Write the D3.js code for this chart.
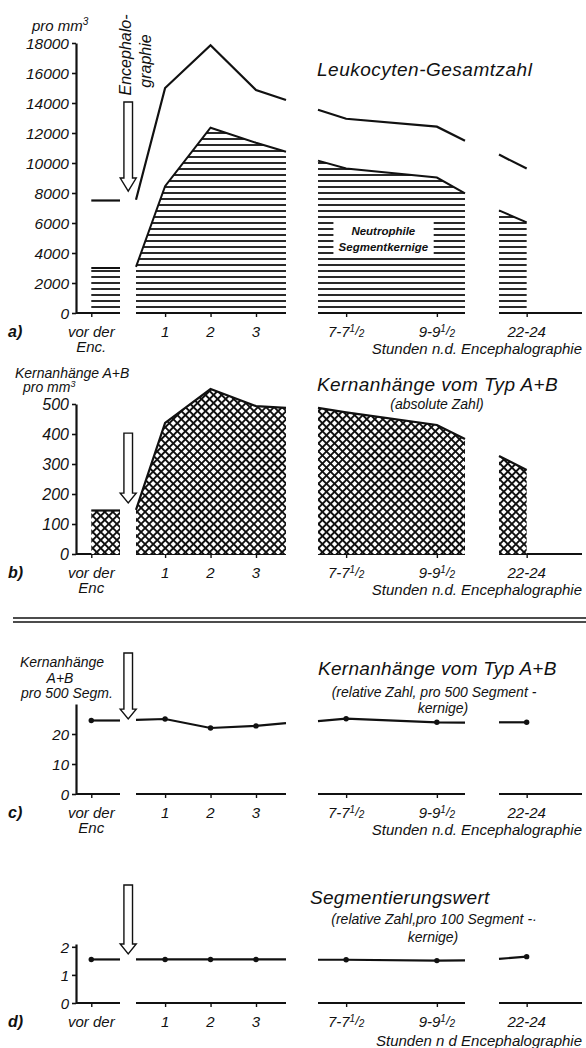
<!DOCTYPE html>
<html>
<head>
<meta charset="utf-8">
<script src="https://cdn.jsdelivr.net/npm/d3@7"></script>
<style>
body { margin: 0; background: #fff; }
text { font-family: "Liberation Sans", Arial, sans-serif; font-style: italic; fill: #111; }
</style>
</head>
<body>
<div id="chart"></div>
<script>
// Stunden pro Teilstück der gebrochenen Zeitachse
var segHours = [[-1, -0.38], [0.36, 1, 2, 3, 3.66], [6.63, 7.25, 9.25, 9.87], [22.4, 23]];
var segEnds = [[-1.33, -0.38], [0.36, 3.66], [6.63, 9.87], [22.4, 24.2]];
var tickHours = [-1, 1, 2, 3, 7.25, 9.25, 23];
var tickLabels = ["vor der", "1", "2", "3", "7-7", "9-9", "22-24"];

// a) Leukocyten pro mm3
var leukoTotal = [[7500, 7500], [7550, 15000, 17850, 14870, 14200], [13550, 12950, 12420, 11490], [10560, 9630]];
var neutroSeg = [[3000, 3000], [3070, 8450, 12350, 11350, 10750], [10160, 9630, 9030, 7970], [6840, 6040]];
// b) Kernanhänge A+B pro mm3
var kernAbs = [[145, 145], [147, 437, 550, 493, 487], [487, 472, 430, 383], [327, 280]];
// c) Kernanhänge pro 500 Segmentkernige
var kernRel = [[24.5, 24.5], [24.7, 25, 22, 22.7, 23.6], [24.3, 25.1, 23.9, 23.8], [23.9, 23.9]];
// d) Segmentierungswert
var segWert = [[1.55, 1.55], [1.55, 1.55, 1.55, 1.55, 1.55], [1.54, 1.54, 1.51, 1.52], [1.57, 1.65]];

var svg = d3.select("#chart").append("svg")
	.attr("width", 586)
	.attr("height", 1048);

var defs = svg.append("defs");
var hatch = defs.append("pattern")
	.attr("id", "hatch")
	.attr("patternUnits", "userSpaceOnUse")
	.attr("width", 8).attr("height", 6);
hatch.append("path").attr("d", "M0,1H8").attr("stroke", "#111").attr("stroke-width", 1.8);

var cross = defs.append("pattern")
	.attr("id", "cross")
	.attr("patternUnits", "userSpaceOnUse")
	.attr("width", 5.7).attr("height", 5.7)
	.attr("patternTransform", "rotate(45)");
cross.append("rect").attr("width", 5.7).attr("height", 5.7).attr("fill", "#fff");
cross.append("path").attr("d", "M0,2.85H5.7M2.85,0V5.7").attr("stroke", "#111").attr("stroke-width", 1.9);

// gebrochene Zeitachse
var x = d3.scaleLinear()
	.domain([-1.33, -0.38, 0.36, 3.66, 6.63, 9.87, 22.4, 24.2])
	.range([76, 120, 136, 286, 318, 465, 499, 582]);

var panels = [
	{ key: "a)", y0: 313, yTop: 43, max: 18000, ticks: d3.range(0, 18001, 2000), fs: 15.5,
		enc: "Enc.", stunden: "Stunden n.d. Encephalographie", arrow: [14070, 9000, 8130] },
	{ key: "b)", y0: 554, yTop: 404, max: 500, ticks: d3.range(0, 501, 100), fs: 16,
		enc: "Enc", stunden: "Stunden n.d. Encephalographie", arrow: [403, 203, 170] },
	{ key: "c)", y0: 794, yTop: 704, max: 30, ticks: [0, 10, 20], fs: 15,
		enc: "Enc", stunden: "Stunden n.d. Encephalographie", arrow: [47, 28.3, 25] },
	{ key: "d)", y0: 1003, yTop: 944, max: 2.1, ticks: [0, 1, 2], fs: 15,
		enc: null, stunden: "Stunden n d Encephalographie", arrow: [4.2, 2.1, 1.75] }
];

panels.forEach(function(p, i) {
	var g = svg.append("g");
	var y = d3.scaleLinear().domain([0, p.max]).range([p.y0, p.yTop]);
	p.y = y;
	p.g = g;

	// Hochachse
	var ax = g.append("g")
		.attr("transform", "translate(" + x(segEnds[0][0]) + ",0)")
		.call(d3.axisLeft(y).tickValues(p.ticks).tickFormat(d3.format("d"))
			.tickSize(4).tickSizeOuter(0).tickPadding(3));
	ax.select(".domain").attr("stroke", "#111").attr("stroke-width", 2.2);
	ax.selectAll(".tick line").attr("stroke", "#111").attr("stroke-width", 1.6);
	ax.selectAll(".tick text")
		.attr("font-family", null)
		.style("font-size", p.fs + "px")
		.attr("dy", "0.36em");

	// Zeitachse (Teilstücke)
	g.selectAll(".base")
		.data(segEnds)
		.enter()
		.append("line")
		.attr("x1", function(s) { return x(s[0]); })
		.attr("x2", function(s) { return x(s[1]); })
		.attr("y1", y(0)).attr("y2", y(0))
		.attr("stroke", "#111")
		.attr("stroke-width", 2.2);

	var xa = g.append("g")
		.attr("transform", "translate(0," + y(0) + ")")
		.call(d3.axisBottom(x).tickValues(tickHours).tickFormat("").tickSize(4).tickSizeOuter(0));
	xa.select(".domain").remove();
	xa.selectAll(".tick line").attr("stroke", "#111").attr("stroke-width", 1.4);

	var lab = g.selectAll(".xl")
		.data(tickHours)
		.enter()
		.append("text")
		.attr("x", function(d) { return x(d); })
		.attr("y", y(0) + 23.5)
		.attr("text-anchor", "middle")
		.style("font-size", "15px")
		.text(function(d, j) { return tickLabels[j]; });
	lab.filter(function(d) { return d === 7.25 || d === 9.25; })
		.each(function() {
			var t = d3.select(this);
			t.append("tspan").attr("dy", -5).style("font-size", "10px").text("1");
			t.append("tspan").attr("dy", 3).style("font-size", "13px").text("/");
			t.append("tspan").attr("dy", 2.5).style("font-size", "10px").text("2");
		});

	if (p.enc) {
		g.append("text")
			.attr("x", x(tickHours[0]))
			.attr("y", y(0) + 39)
			.attr("text-anchor", "middle")
			.style("font-size", "15px")
			.text(p.enc);
	}
	g.append("text")
		.attr("x", 582)
		.attr("y", y(0) + 41 + (i === 3 ? 2 : 0))
		.attr("text-anchor", "end")
		.style("font-size", "15px")
		.text(p.stunden);

	g.append("text")
		.attr("x", 8)
		.attr("y", y(0) + 23.5)
		.style("font-size", "16px")
		.style("font-weight", "bold")
		.text(p.key);

	// Pfeil: Encephalographie
	var cx = x(0), a = p.arrow;
	var arrowPath = "M" + (cx - 4.3) + "," + y(a[0]) +
		"H" + (cx + 4.3) + "V" + y(a[1]) +
		"H" + (cx + 8) + "L" + cx + "," + y(a[2]) +
		"L" + (cx - 8) + "," + y(a[1]) +
		"H" + (cx - 4.3) + "Z";
	g.append("path")
		.attr("d", arrowPath)
		.attr("fill", "#fff")
		.attr("stroke", "#111")
		.attr("stroke-width", 1.4);
});

function segPoints(vals, k) {
	return segHours[k].map(function(h, j) { return [h, vals[k][j]]; });
}

// a)
(function() {
	var p = panels[0], y = p.y, g = p.g;
	var area = d3.area().x(function(d) { return x(d[0]); }).y0(y(0)).y1(function(d) { return y(d[1]); });
	var line = d3.line().x(function(d) { return x(d[0]); }).y(function(d) { return y(d[1]); });
	segHours.forEach(function(s, k) {
		g.append("path").attr("d", area(segPoints(neutroSeg, k))).attr("fill", "url(#hatch)");
		g.append("path").attr("d", line(segPoints(neutroSeg, k)))
			.attr("fill", "none").attr("stroke", "#111").attr("stroke-width", 2);
		g.append("path").attr("d", line(segPoints(leukoTotal, k)))
			.attr("fill", "none").attr("stroke", "#111").attr("stroke-width", 2.2);
	});

	g.append("rect")
		.attr("x", x(6.97)).attr("y", y(6150))
		.attr("width", x(9.18) - x(6.97)).attr("height", y(3800) - y(6150))
		.attr("fill", "#fff");
	g.append("text").attr("x", x(8.07)).attr("y", y(5200))
		.attr("text-anchor", "middle").style("font-size", "11.5px").style("font-weight", "bold")
		.text("Neutrophile");
	g.append("text").attr("x", x(8.07)).attr("y", y(4130))
		.attr("text-anchor", "middle").style("font-size", "11.5px").style("font-weight", "bold")
		.text("Segmentkernige");

	var t = g.append("text").attr("x", 32).attr("y", 31).style("font-size", "15px").text("pro mm");
	t.append("tspan").attr("dy", -6).style("font-size", "10px").text("3");

	g.append("text").attr("transform", "translate(131,55) rotate(-90)")
		.attr("text-anchor", "middle").style("font-size", "16px").text("Encephalo-");
	g.append("text").attr("transform", "translate(151,61) rotate(-90)")
		.attr("text-anchor", "middle").style("font-size", "16px").text("graphie");

	g.append("text").attr("x", 317).attr("y", 76)
		.style("font-size", "19px").style("letter-spacing", "0.5px")
		.text("Leukocyten-Gesamtzahl");
})();

// b)
(function() {
	var p = panels[1], y = p.y, g = p.g;
	var area = d3.area().x(function(d) { return x(d[0]); }).y0(y(0)).y1(function(d) { return y(d[1]); });
	var line = d3.line().x(function(d) { return x(d[0]); }).y(function(d) { return y(d[1]); });
	segHours.forEach(function(s, k) {
		g.append("path").attr("d", area(segPoints(kernAbs, k))).attr("fill", "url(#cross)");
		g.append("path").attr("d", line(segPoints(kernAbs, k)))
			.attr("fill", "none").attr("stroke", "#111").attr("stroke-width", 2.2);
	});

	g.append("text").attr("x", 15).attr("y", 378).style("font-size", "14px").text("Kernanhänge A+B");
	var t = g.append("text").attr("x", 23).attr("y", 392).style("font-size", "14px").text("pro mm");
	t.append("tspan").attr("dy", -5).style("font-size", "9px").text("3");

	g.append("text").attr("x", 317).attr("y", 391)
		.style("font-size", "19px").style("letter-spacing", "0.4px")
		.text("Kernanhänge vom Typ A+B");
	g.append("text").attr("x", 437).attr("y", 409)
		.attr("text-anchor", "middle").style("font-size", "14px")
		.text("(absolute Zahl)");
})();

// c) und d)
[[panels[2], kernRel], [panels[3], segWert]].forEach(function(pv) {
	var p = pv[0], vals = pv[1], y = p.y, g = p.g;
	var line = d3.line().x(function(d) { return x(d[0]); }).y(function(d) { return y(d[1]); });
	segHours.forEach(function(s, k) {
		var pts = segPoints(vals, k);
		g.append("path").attr("d", line(pts))
			.attr("fill", "none").attr("stroke", "#111").attr("stroke-width", 2.2);
		g.selectAll(".dot" + k)
			.data(pts.filter(function(d) { return tickHours.indexOf(d[0]) >= 0; }))
			.enter()
			.append("circle")
			.attr("cx", function(d) { return x(d[0]); })
			.attr("cy", function(d) { return y(d[1]); })
			.attr("r", 2.7)
			.attr("fill", "#111");
	});
});

// Texte c)
(function() {
	var g = panels[2].g;
	g.append("text").attr("x", 62).attr("y", 667).attr("text-anchor", "middle").style("font-size", "14px").text("Kernanhänge");
	g.append("text").attr("x", 60).attr("y", 683).attr("text-anchor", "middle").style("font-size", "14px").text("A+B");
	g.append("text").attr("x", 67).attr("y", 698).attr("text-anchor", "middle").style("font-size", "14px").text("pro 500 Segm.");
	g.append("text").attr("x", 318).attr("y", 675)
		.style("font-size", "19px").style("letter-spacing", "0.3px")
		.text("Kernanhänge vom Typ A+B");
	g.append("text").attr("x", 434).attr("y", 697).attr("text-anchor", "middle")
		.style("font-size", "14px").text("(relative Zahl, pro 500 Segment -");
	g.append("text").attr("x", 443).attr("y", 713).attr("text-anchor", "middle")
		.style("font-size", "14px").text("kernige)");
})();

// Texte d)
(function() {
	var g = panels[3].g;
	g.append("text").attr("x", 310).attr("y", 904)
		.style("font-size", "19px").style("letter-spacing", "0.3px")
		.text("Segmentierungswert");
	g.append("text").attr("x", 434).attr("y", 924).attr("text-anchor", "middle")
		.style("font-size", "14px").text("(relative Zahl,pro 100 Segment -·");
	g.append("text").attr("x", 433).attr("y", 942).attr("text-anchor", "middle")
		.style("font-size", "14px").text("kernige)");
})();

// Trennlinie
svg.selectAll(".sep")
	.data([618, 622])
	.enter()
	.append("line")
	.attr("x1", 13).attr("x2", 586)
	.attr("y1", function(d) { return d; }).attr("y2", function(d) { return d; })
	.attr("stroke", "#111")
	.attr("stroke-width", 1.6);
</script>
</body>
</html>
